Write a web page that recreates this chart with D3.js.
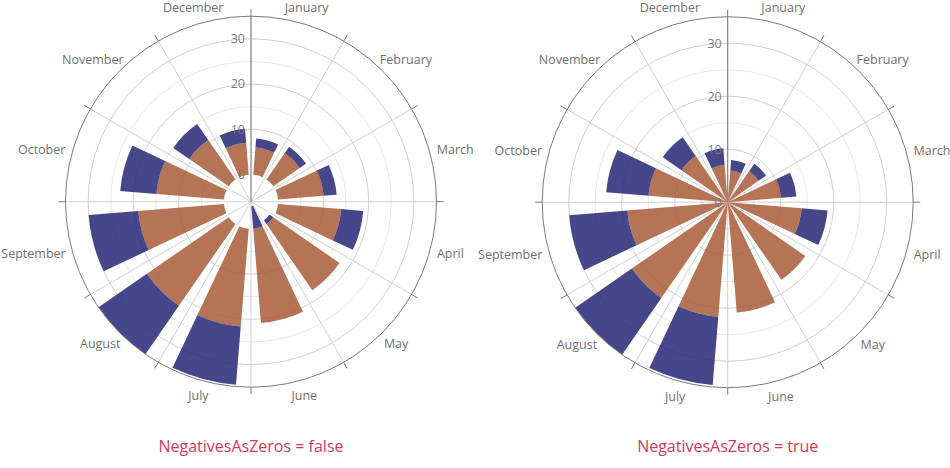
<!DOCTYPE html>
<html>
<head>
<meta charset="utf-8">
<script src="https://cdn.jsdelivr.net/npm/d3@7"></script>
<style>
  html, body { margin: 0; padding: 0; background: #fff; }
  svg { display: block; font-family: "Open Sans", "Noto Sans", sans-serif; }
</style>
</head>
<body>
<svg id="chart" width="950" height="468"></svg>
<script>
// ---- data ----
const months = ["January","February","March","April","May","June","July","August","September","October","November","December"];
const seriesOrange = [6.0, 7.1, 10.1, 14.0, 17.8, 20.9, 21.7, 22.0, 19.0, 15.0, 10.6, 7.1];
const seriesBlue   = [2.0, 1.7, 2.9, 4.9, -1.0, -5.0, 12.9, 13.0, 11.0, 8.0, 4.3, 3.1];
const majorTicks = [0, 10, 20, 30];
const minorTicks = [5, 15, 25];
const panelTitles = ["NegativesAsZeros = false", "NegativesAsZeros = true"];
const negativesAsZeros = [false, true];
const radialMin = [-6, 0];
const radialMax = [35, 35];

// ---- layout ----
const svg = d3.select("#chart");
const centers = [[251, 201.7], [727.7, 202.2]];
const R = 185.5;
const colors = { orange: "#a85c38", blue: "#262676" };

function drawPanel(p) {
  const [cx, cy] = centers[p];
  const negZero = negativesAsZeros[p];
  const g = svg.append("g").attr("transform", `translate(${cx},${cy})`);
  const r = d3.scaleLinear().domain([radialMin[p], radialMax[p]]).range([0, R]);
  const a = d3.scaleBand().domain(months).range([0, 2 * Math.PI])
    .paddingInner(0.313).paddingOuter(0.1565);
  const step = 2 * Math.PI / months.length;

  // minor gridlines
  g.selectAll("circle.minor").data(minorTicks).join("circle")
    .attr("r", d => r(d)).attr("fill", "none")
    .attr("stroke", "#e8e8e8").attr("stroke-width", 1);
  // major gridlines
  g.selectAll("circle.major").data(majorTicks.filter(d => d > 0)).join("circle")
    .attr("r", d => r(d)).attr("fill", "none")
    .attr("stroke", "#d0d0d0").attr("stroke-width", 1);
  // spokes
  g.selectAll("line.spoke").data(months).join("line")
    .attr("x1", 0).attr("y1", 0)
    .attr("x2", (d, i) => R * Math.sin(i * step))
    .attr("y2", (d, i) => -R * Math.cos(i * step))
    .attr("stroke", "#d0d0d0").attr("stroke-width", 1);

  // bars
  const arc = d3.arc();
  const rows = months.map((m, i) => {
    const o = seriesOrange[i];
    let b = seriesBlue[i];
    if (negZero && b < 0) b = 0;
    return { m, o, b };
  });
  const segs = [];
  rows.forEach(d => {
    const s0 = a(d.m), s1 = a(d.m) + a.bandwidth();
    segs.push({ s0, s1, r0: r(0), r1: r(d.o), c: colors.orange });
    if (d.b > 0) segs.push({ s0, s1, r0: r(d.o), r1: r(Math.min(d.o + d.b, radialMax[p])), c: colors.blue });
    else if (d.b < 0) segs.push({ s0, s1, r0: r(d.b), r1: r(0), c: colors.blue });
  });
  g.selectAll("path.bar").data(segs).join("path")
    .attr("d", d => arc({ innerRadius: d.r0, outerRadius: d.r1, startAngle: d.s0, endAngle: d.s1 }))
    .attr("fill", d => d.c).attr("fill-opacity", 0.85);

  // outer circle
  g.append("circle").attr("r", R).attr("fill", "none")
    .attr("stroke", "#7a7a7a").attr("stroke-width", 1);
  // angular ticks
  g.selectAll("line.tick").data(months).join("line")
    .attr("x1", (d, i) => R * Math.sin(i * step))
    .attr("y1", (d, i) => -R * Math.cos(i * step))
    .attr("x2", (d, i) => (R + 7) * Math.sin(i * step))
    .attr("y2", (d, i) => -(R + 7) * Math.cos(i * step))
    .attr("stroke", "#7a7a7a").attr("stroke-width", 1);
  // radial axis line
  g.append("line").attr("x1", 0).attr("y1", 0).attr("x2", 0).attr("y2", -R)
    .attr("stroke", "#7a7a7a").attr("stroke-width", 1);

  // radial tick labels
  g.selectAll("text.rt").data(majorTicks).join("text")
    .attr("x", -6).attr("y", d => -r(d)).attr("dy", "0.35em")
    .attr("text-anchor", "end").attr("font-size", 12.5).attr("fill", "#7a7a7a")
    .text(d => d);

  // month labels
  const LR = 193;
  months.forEach((m, i) => {
    const th = a(m) + a.bandwidth() / 2;
    const t = g.append("text").attr("font-size", 12.5).attr("fill", "#707070")
      .attr("text-anchor", "middle").attr("dy", "0.35em").text(m);
    const w = t.node().getComputedTextLength();
    const h = 16;
    const px = LR * Math.sin(th) + Math.sin(th) * w / 2;
    const py = -LR * Math.cos(th) - Math.cos(th) * h / 2;
    t.attr("x", px).attr("y", py);
  });

  // title
  svg.append("text").attr("x", cx).attr("y", 446).attr("dy", "0.35em")
    .attr("text-anchor", "middle").attr("font-size", 16).attr("fill", "#d3385d")
    .text(panelTitles[p]);
}

drawPanel(0);
drawPanel(1);
</script>
</body>
</html>
